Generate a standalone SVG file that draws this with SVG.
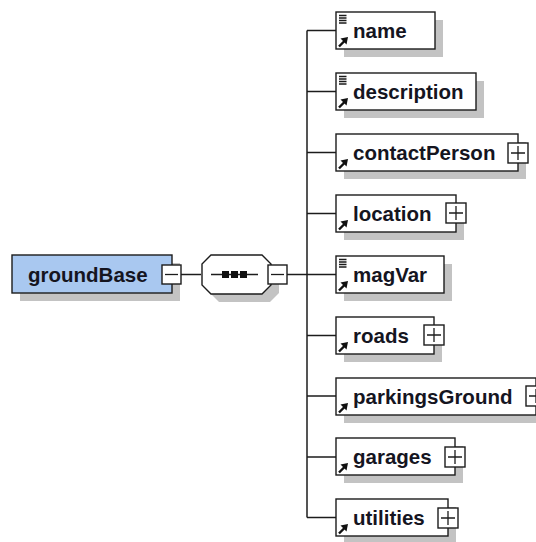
<svg xmlns="http://www.w3.org/2000/svg" xmlns:xlink="http://www.w3.org/1999/xlink" width="536" height="542" viewBox="0 0 536 542">
<style>
.shadow{fill:#c3c3c3;stroke:none}
.box{fill:#ffffff;stroke:#1c1c1c;stroke-width:1.4}
.root{fill:#a9c8f0;stroke:#1c1c1c;stroke-width:1.4}
.lbl{font-family:"Liberation Sans",Arial,sans-serif;font-weight:bold;font-size:20.5px;fill:#15151f}
.conn{fill:none;stroke:#1c1c1c;stroke-width:1.5}
.sign{stroke:#1c1c1c;stroke-width:1.3;fill:none}
</style>
<defs>
<g id="plus">
<rect x="0" y="0" width="20" height="20" class="box"/>
<path d="M3,10H17M10,3V17" class="sign"/>
</g>
<g id="minus">
<rect x="0" y="0" width="19" height="19" class="box"/>
<path d="M3,9.5H16" class="sign"/>
</g>
<g id="arrow">
<path d="M3,-2.5L8.5,-8" stroke="#111" stroke-width="2.4" fill="none"/>
<polygon points="12,-12 4.5,-10.5 10.5,-4.5" fill="#111"/>
</g>
<g id="doc">
<path d="M3,3.5H10.5M3,6H10.5M3,8.5H10.5M3,11H10.5" stroke="#1a1a1a" stroke-width="1.3" fill="none"/>
</g>
</defs>

<g id="connectors">
<path class="conn" d="M181,274.5H201"/>
<path class="conn" d="M287,274.5H307"/>
<path class="conn" d="M307,30.5V517.5"/>
<path class="conn" d="M307,30.5H336M307,91.5H336M307,152.5H336M307,213.5H336M307,274.5H336M307,335.5H336M307,396H336M307,457H336M307,517.5H336"/>
</g>

<g id="groundBase">
<rect class="shadow" x="20" y="263" width="160" height="38"/>
<rect class="root" x="12" y="255" width="160" height="38"/>
<text class="lbl" x="28" y="282">groundBase</text>
<use xlink:href="#minus" x="162" y="265"/>
</g>

<g id="sequence">
<polygon class="shadow" points="219,263 270,263 279,272 279,293 270,302 219,302 210,293 210,272"/>
<polygon class="box" points="211,255 262,255 271,264 271,285 262,294 211,294 202,285 202,264"/>
<path d="M211,274.5H258" stroke="#1c1c1c" stroke-width="1.4"/>
<rect x="222" y="271" width="7" height="7" fill="#111"/>
<rect x="231" y="271" width="7" height="7" fill="#111"/>
<rect x="240" y="271" width="7" height="7" fill="#111"/>
<use xlink:href="#minus" x="268" y="265"/>
</g>

<g id="name">
<rect class="shadow" x="344" y="20" width="99" height="37"/>
<rect class="box" x="336" y="12" width="99" height="37"/>
<use xlink:href="#doc" x="336" y="12"/>
<use xlink:href="#arrow" x="336" y="49"/>
<text class="lbl" x="353" y="38">name</text>
</g>

<g id="description">
<rect class="shadow" x="344" y="81" width="140" height="37"/>
<rect class="box" x="336" y="73" width="140" height="37"/>
<use xlink:href="#doc" x="336" y="73"/>
<use xlink:href="#arrow" x="336" y="110"/>
<text class="lbl" x="353" y="99">description</text>
</g>

<g id="contactPerson">
<rect class="shadow" x="344" y="142" width="182" height="37"/>
<rect class="box" x="336" y="134" width="182" height="37"/>
<use xlink:href="#arrow" x="336" y="171"/>
<text class="lbl" x="353" y="160">contactPerson</text>
<use xlink:href="#plus" x="508" y="143"/>
</g>

<g id="location">
<rect class="shadow" x="344" y="203" width="120" height="37"/>
<rect class="box" x="336" y="195" width="120" height="37"/>
<use xlink:href="#arrow" x="336" y="232"/>
<text class="lbl" x="353" y="221">location</text>
<use xlink:href="#plus" x="446" y="203"/>
</g>

<g id="magVar">
<rect class="shadow" x="344" y="264" width="108" height="37"/>
<rect class="box" x="336" y="256" width="108" height="37"/>
<use xlink:href="#doc" x="336" y="256"/>
<use xlink:href="#arrow" x="336" y="293"/>
<text class="lbl" x="353" y="282">magVar</text>
</g>

<g id="roads">
<rect class="shadow" x="344" y="325" width="98" height="37"/>
<rect class="box" x="336" y="317" width="98" height="37"/>
<use xlink:href="#arrow" x="336" y="354"/>
<text class="lbl" x="353" y="343">roads</text>
<use xlink:href="#plus" x="424" y="325"/>
</g>

<g id="parkingsGround">
<rect class="shadow" x="344" y="386" width="200" height="37"/>
<rect class="box" x="336" y="378" width="200" height="37"/>
<use xlink:href="#arrow" x="336" y="415"/>
<text class="lbl" x="353" y="404">parkingsGround</text>
<use xlink:href="#plus" x="526" y="386"/>
</g>

<g id="garages">
<rect class="shadow" x="344" y="446" width="119" height="37"/>
<rect class="box" x="336" y="438" width="119" height="37"/>
<use xlink:href="#arrow" x="336" y="475"/>
<text class="lbl" x="353" y="464">garages</text>
<use xlink:href="#plus" x="445" y="447"/>
</g>

<g id="utilities">
<rect class="shadow" x="344" y="507" width="112" height="37"/>
<rect class="box" x="336" y="499" width="112" height="37"/>
<use xlink:href="#arrow" x="336" y="536"/>
<text class="lbl" x="353" y="525">utilities</text>
<use xlink:href="#plus" x="438" y="508"/>
</g>
</svg>
